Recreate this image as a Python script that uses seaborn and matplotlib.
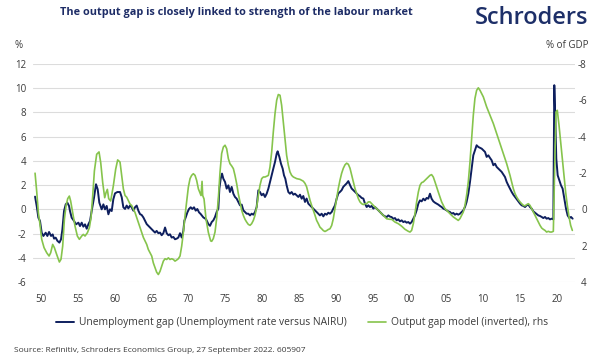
import numpy as np
import pandas as pd
import matplotlib
matplotlib.use("Agg")
import matplotlib.pyplot as plt
import seaborn as sns

# ---------------- data ----------------
unemp_year = [
    1949.19, 1949.41, 1949.64, 1949.86, 1950.09, 1950.32, 1950.63, 1950.86, 1951.09, 1951.36,
    1951.58, 1951.77, 1951.99, 1952.22, 1952.49, 1952.71, 1952.90, 1953.12, 1953.35, 1953.57,
    1953.80, 1953.93, 1954.16, 1954.48, 1954.75, 1955.07, 1955.29, 1955.52, 1955.74, 1955.97,
    1956.20, 1956.42, 1956.65, 1956.87, 1957.19, 1957.46, 1957.69, 1957.91, 1958.23, 1958.46,
    1958.68, 1958.91, 1959.14, 1959.36, 1959.59, 1959.81, 1960.04, 1960.36, 1960.72, 1960.95,
    1961.17, 1961.40, 1961.62, 1961.85, 1962.08, 1962.30, 1962.53, 1962.75, 1962.98, 1963.21,
    1963.43, 1963.66, 1963.89, 1964.11, 1964.34, 1964.56, 1964.79, 1965.02, 1965.24, 1965.47,
    1965.69, 1965.92, 1966.15, 1966.37, 1966.60, 1966.83, 1967.05, 1967.28, 1967.50, 1967.73,
    1967.96, 1968.18, 1968.41, 1968.63, 1968.86, 1969.09, 1969.31, 1969.45, 1969.63, 1969.86,
    1970.08, 1970.31, 1970.53, 1970.76, 1970.99, 1971.21, 1971.44, 1971.67, 1972.03, 1972.39,
    1972.71, 1972.93, 1973.16, 1973.38, 1973.61, 1973.83, 1974.06, 1974.20, 1974.38, 1974.56,
    1974.74, 1974.97, 1975.19, 1975.42, 1975.64, 1975.87, 1976.10, 1976.32, 1976.55, 1976.77,
    1977.00, 1977.23, 1977.45, 1977.68, 1977.90, 1978.13, 1978.36, 1978.58, 1978.81, 1979.04,
    1979.26, 1979.49, 1979.71, 1979.94, 1980.17, 1980.39, 1980.62, 1980.85, 1981.07, 1981.30,
    1981.52, 1981.75, 1981.98, 1982.11, 1982.34, 1982.56, 1982.79, 1982.97, 1983.15, 1983.33,
    1983.56, 1983.78, 1984.01, 1984.24, 1984.46, 1984.69, 1984.92, 1985.14, 1985.37, 1985.59,
    1985.82, 1986.04, 1986.27, 1986.50, 1986.72, 1986.95, 1987.18, 1987.40, 1987.63, 1987.85,
    1988.08, 1988.31, 1988.53, 1988.76, 1988.98, 1989.21, 1989.44, 1989.66, 1989.89, 1990.12,
    1990.34, 1990.57, 1990.79, 1991.02, 1991.25, 1991.47, 1991.70, 1991.93, 1992.15, 1992.38,
    1992.60, 1992.83, 1993.06, 1993.28, 1993.51, 1993.74, 1993.96, 1994.19, 1994.41, 1994.64,
    1994.87, 1995.09, 1995.32, 1995.55, 1995.77, 1996.00, 1996.22, 1996.45, 1996.68, 1996.90,
    1997.13, 1997.35, 1997.58, 1997.80, 1998.03, 1998.26, 1998.48, 1998.71, 1998.94, 1999.16,
    1999.39, 1999.61, 1999.84, 2000.07, 2000.29, 2000.52, 2000.74, 2000.97, 2001.20, 2001.42,
    2001.65, 2001.88, 2002.10, 2002.33, 2002.55, 2002.78, 2003.00, 2003.23, 2003.46, 2003.68,
    2003.91, 2004.14, 2004.36, 2004.59, 2004.81, 2005.04, 2005.27, 2005.49, 2005.72, 2005.95,
    2006.17, 2006.40, 2006.62, 2006.85, 2007.08, 2007.30, 2007.53, 2007.75, 2007.98, 2008.21,
    2008.43, 2008.66, 2008.88, 2009.11, 2009.34, 2009.57, 2009.80, 2010.02, 2010.25, 2010.47,
    2010.70, 2010.93, 2011.15, 2011.38, 2011.61, 2011.83, 2012.06, 2012.28, 2012.51, 2012.74,
    2012.96, 2013.19, 2013.41, 2013.64, 2013.87, 2014.09, 2014.32, 2014.54, 2014.77, 2015.00,
    2015.22, 2015.45, 2015.68, 2015.90, 2016.13, 2016.35, 2016.58, 2016.81, 2017.03, 2017.26,
    2017.48, 2017.71, 2017.94, 2018.16, 2018.39, 2018.61, 2018.84, 2019.07, 2019.29, 2019.52,
    2019.65, 2019.79, 2019.92, 2020.11, 2020.33, 2020.56, 2020.78, 2021.01, 2021.24, 2021.46,
    2021.69, 2021.92, 2022.14,
]
unemp_gap = [
    1.05, 0.28, -0.69, -0.96, -1.93, -2.20, -1.93, -2.20, -1.87, -2.20,
    -2.07, -2.42, -2.34, -2.60, -2.75, -2.48, -1.65, -0.14, 0.41, 0.55,
    0.28, -0.14, -0.69, -0.96, -1.24, -1.10, -1.38, -1.10, -1.43, -1.24,
    -1.60, -1.24, -0.96, -0.14, 0.96, 2.07, 1.65, 0.55, 0.00, 0.41,
    0.00, 0.28, -0.41, 0.00, -0.14, 0.83, 1.32, 1.43, 1.43, 1.00,
    0.17, 0.03, 0.31, 0.08, 0.31, 0.17, -0.11, 0.17, 0.31, -0.11,
    -0.39, -0.47, -0.67, -0.94, -1.22, -1.36, -1.50, -1.64, -1.78, -1.92,
    -1.78, -1.97, -1.92, -2.14, -1.97, -1.50, -1.97, -2.14, -2.06, -2.33,
    -2.28, -2.47, -2.42, -2.33, -1.97, -2.33, -1.78, -0.94, -0.67, -0.25,
    0.03, 0.17, 0.03, 0.17, -0.11, 0.03, -0.25, -0.39, -0.67, -0.81,
    -1.22, -1.36, -1.05, -0.91, -0.63, -0.22, 0.06, 1.71, 2.53, 2.95,
    2.53, 2.26, 1.71, 1.98, 1.43, 1.85, 1.29, 1.02, 0.88, 0.61,
    0.33, 0.39, -0.08, -0.22, -0.36, -0.36, -0.50, -0.36, -0.44, -0.22,
    0.19, 1.57, 1.43, 1.16, 1.29, 1.02, 1.29, 1.71, 2.26, 2.81,
    3.36, 3.91, 4.60, 4.79, 4.33, 3.77, 3.36, 2.81, 2.53, 1.98,
    1.43, 1.29, 1.43, 1.21, 1.29, 1.16, 1.02, 1.21, 0.88, 1.10,
    0.61, 0.89, 0.47, 0.33, 0.19, 0.06, -0.08, -0.22, -0.36, -0.50,
    -0.36, -0.58, -0.36, -0.44, -0.28, -0.36, -0.22, 0.06, 0.33, 0.89,
    1.31, 1.44, 1.58, 1.86, 2.00, 2.14, 2.33, 2.00, 1.72, 1.58,
    1.44, 1.31, 1.17, 1.08, 0.94, 0.89, 0.47, 0.19, 0.33, 0.19,
    0.28, 0.06, 0.19, 0.06, -0.08, -0.22, -0.36, -0.50, -0.58, -0.64,
    -0.50, -0.60, -0.64, -0.78, -0.72, -0.91, -0.83, -0.99, -0.91, -1.05,
    -0.99, -1.10, -1.05, -1.18, -1.05, -0.77, -0.50, -0.08, 0.47, 0.74,
    0.66, 0.88, 0.74, 0.94, 0.88, 1.29, 0.88, 0.66, 0.55, 0.47,
    0.39, 0.28, 0.19, 0.06, 0.00, -0.08, -0.17, -0.22, -0.36, -0.30,
    -0.44, -0.36, -0.44, -0.36, -0.22, -0.08, 0.19, 0.61, 1.29, 2.26,
    3.36, 4.46, 4.88, 5.29, 5.15, 5.08, 5.01, 4.88, 4.74, 4.33,
    4.46, 4.24, 4.05, 3.64, 3.77, 3.50, 3.36, 3.22, 3.09, 2.87,
    2.67, 2.26, 1.98, 1.71, 1.43, 1.21, 1.02, 0.83, 0.66, 0.47,
    0.33, 0.28, 0.19, 0.33, 0.39, 0.19, 0.06, -0.17, -0.28, -0.39,
    -0.50, -0.55, -0.63, -0.72, -0.63, -0.77, -0.72, -0.83, -0.77, -0.83,
    10.25, 7.49, 4.19, 2.81, 2.40, 1.98, 1.71, 0.88, 0.06, -0.50,
    -0.72, -0.63, -0.77,
]

og_year = [
    1949.19, 1949.41, 1949.64, 1949.86, 1950.09, 1950.41, 1950.77, 1951.09, 1951.31, 1951.58,
    1951.81, 1952.12, 1952.49, 1952.71, 1952.94, 1953.17, 1953.39, 1953.62, 1953.84, 1954.02,
    1954.30, 1954.61, 1954.93, 1955.20, 1955.52, 1955.74, 1955.97, 1956.29, 1956.56, 1956.78,
    1957.01, 1957.24, 1957.55, 1957.87, 1958.10, 1958.37, 1958.64, 1958.82, 1959.00, 1959.18,
    1959.45, 1959.81, 1960.13, 1960.40, 1960.72, 1960.95, 1961.17, 1961.40, 1961.62, 1961.85,
    1962.08, 1962.30, 1962.53, 1962.75, 1962.98, 1963.21, 1963.43, 1963.66, 1963.89, 1964.11,
    1964.34, 1964.56, 1964.79, 1965.02, 1965.24, 1965.47, 1965.69, 1965.92, 1966.15, 1966.37,
    1966.60, 1966.83, 1967.05, 1967.28, 1967.50, 1967.73, 1967.96, 1968.18, 1968.41, 1968.63,
    1968.86, 1969.09, 1969.31, 1969.54, 1969.77, 1969.99, 1970.22, 1970.44, 1970.67, 1970.90,
    1971.12, 1971.35, 1971.71, 1971.85, 1971.94, 1972.12, 1972.39, 1972.71, 1973.02, 1973.16,
    1973.38, 1973.61, 1973.83, 1974.06, 1974.29, 1974.51, 1974.74, 1974.97, 1975.19, 1975.42,
    1975.64, 1975.87, 1976.10, 1976.32, 1976.55, 1976.77, 1977.00, 1977.23, 1977.45, 1977.68,
    1977.90, 1978.13, 1978.36, 1978.58, 1978.81, 1979.04, 1979.26, 1979.49, 1979.71, 1979.94,
    1980.17, 1980.39, 1980.62, 1980.85, 1981.07, 1981.30, 1981.52, 1981.75, 1981.98, 1982.20,
    1982.43, 1982.65, 1982.88, 1983.11, 1983.33, 1983.56, 1983.78, 1984.01, 1984.24, 1984.69,
    1985.14, 1985.59, 1985.82, 1986.04, 1986.27, 1986.50, 1986.72, 1986.95, 1987.18, 1987.40,
    1987.63, 1987.85, 1988.08, 1988.31, 1988.53, 1988.76, 1988.98, 1989.21, 1989.44, 1989.66,
    1989.89, 1990.12, 1990.34, 1990.57, 1990.79, 1991.02, 1991.25, 1991.47, 1991.70, 1991.93,
    1992.15, 1992.38, 1992.60, 1992.83, 1993.06, 1993.28, 1993.51, 1993.74, 1993.96, 1994.19,
    1994.41, 1994.64, 1994.87, 1995.09, 1995.32, 1995.55, 1995.77, 1996.00, 1996.22, 1996.45,
    1996.68, 1996.90, 1997.35, 1997.58, 1998.03, 1998.48, 1998.94, 1999.39, 1999.84, 2000.07,
    2000.29, 2000.52, 2000.74, 2000.97, 2001.20, 2001.42, 2001.65, 2001.88, 2002.10, 2002.33,
    2002.55, 2002.78, 2003.00, 2003.23, 2003.46, 2003.68, 2003.91, 2004.14, 2004.36, 2004.59,
    2004.81, 2005.04, 2005.27, 2005.49, 2005.72, 2005.95, 2006.17, 2006.40, 2006.62, 2006.85,
    2007.08, 2007.30, 2007.53, 2007.75, 2007.98, 2008.21, 2008.43, 2008.66, 2008.88, 2009.11,
    2009.34, 2009.57, 2009.92, 2010.02, 2010.47, 2010.93, 2011.38, 2011.83, 2012.28, 2012.74,
    2013.19, 2013.64, 2014.09, 2014.32, 2014.54, 2014.77, 2015.00, 2015.22, 2015.45, 2015.68,
    2015.90, 2016.13, 2016.35, 2016.58, 2016.81, 2017.03, 2017.26, 2017.48, 2017.71, 2017.94,
    2018.16, 2018.39, 2018.61, 2018.84, 2019.07, 2019.29, 2019.52, 2019.70, 2019.88, 2020.06,
    2020.29, 2020.51, 2020.74, 2020.97, 2021.19, 2021.42, 2021.65, 2021.87, 2022.10,
]
og_gap = [
    -1.99, -1.00, 0.19, 0.83, 1.65, 2.11, 2.39, 2.57, 2.39, 1.93,
    2.11, 2.48, 2.90, 2.75, 2.02, 0.55, -0.19, -0.59, -0.73, -0.46,
    0.19, 0.92, 1.47, 1.65, 1.47, 1.38, 1.47, 1.29, 1.01, 0.46,
    -0.73, -2.11, -3.03, -3.16, -2.57, -1.47, -0.64, -0.92, -1.10, -0.59,
    -0.46, -1.29, -2.21, -2.72, -2.60, -1.87, -1.13, -0.76, -0.67, -0.48,
    -0.29, -0.21, -0.02, 0.17, 0.45, 0.72, 1.00, 1.28, 1.55, 1.74,
    1.93, 2.21, 2.39, 2.57, 2.95, 3.22, 3.46, 3.59, 3.41, 3.13,
    2.85, 2.72, 2.76, 2.67, 2.76, 2.72, 2.76, 2.85, 2.79, 2.72,
    2.57, 2.02, 1.28, 0.35, -0.48, -1.22, -1.69, -1.87, -1.96, -1.87,
    -1.59, -1.13, -0.76, -1.54, -0.76, -0.57, 0.54, 1.28, 1.74, 1.76,
    1.61, 1.25, 0.51, -0.59, -2.06, -3.07, -3.43, -3.53, -3.34, -2.79,
    -2.51, -2.39, -2.24, -1.87, -1.41, -0.86, -0.41, 0.05, 0.33, 0.55,
    0.70, 0.83, 0.88, 0.79, 0.61, 0.33, -0.13, -0.77, -1.32, -1.69,
    -1.78, -1.78, -1.82, -1.87, -2.33, -3.16, -4.26, -5.27, -6.01, -6.32,
    -6.28, -5.73, -4.81, -3.89, -2.97, -2.43, -2.06, -1.87, -1.78, -1.69,
    -1.65, -1.55, -1.43, -1.24, -0.87, -0.50, -0.22, 0.05, 0.33, 0.61,
    0.79, 0.98, 1.07, 1.17, 1.22, 1.17, 1.11, 1.07, 0.89, 0.52,
    -0.04, -0.59, -1.15, -1.61, -1.98, -2.26, -2.45, -2.54, -2.48, -2.26,
    -1.89, -1.52, -1.15, -0.87, -0.59, -0.41, -0.31, -0.26, -0.31, -0.31,
    -0.41, -0.41, -0.31, -0.22, -0.13, -0.04, 0.05, 0.15, 0.24, 0.33,
    0.43, 0.52, 0.55, 0.55, 0.70, 0.79, 0.93, 1.10, 1.21, 1.25,
    1.16, 0.79, 0.24, -0.41, -0.95, -1.32, -1.47, -1.51, -1.60, -1.69,
    -1.78, -1.87, -1.91, -1.78, -1.51, -1.23, -0.95, -0.68, -0.41, -0.22,
    -0.04, 0.05, 0.15, 0.24, 0.33, 0.42, 0.48, 0.55, 0.61, 0.51,
    0.33, 0.15, -0.22, -0.77, -1.51, -2.61, -3.89, -5.18, -6.10, -6.55,
    -6.69, -6.55, -6.27, -6.19, -5.64, -5.18, -4.72, -4.17, -3.62, -3.07,
    -2.51, -1.87, -1.14, -0.86, -0.68, -0.53, -0.41, -0.31, -0.22, -0.19,
    -0.26, -0.31, -0.22, -0.04, 0.15, 0.33, 0.51, 0.70, 0.88, 1.03,
    1.10, 1.16, 1.25, 1.21, 1.25, 1.25, 1.21, -2.24, -5.36, -5.45,
    -4.63, -3.71, -2.79, -1.87, -0.95, -0.22, 0.42, 0.88, 1.16,
]

x_ticks = [1950, 1955, 1960, 1965, 1970, 1975, 1980, 1985, 1990, 1995,
           2000, 2005, 2010, 2015, 2020]
x_tick_labels = ["50", "55", "60", "65", "70", "75", "80", "85", "90", "95",
                 "00", "05", "10", "15", "20"]
left_ticks = [-6, -4, -2, 0, 2, 4, 6, 8, 10, 12]
right_ticks = [-8, -6, -4, -2, 0, 2, 4]

title = "The output gap is closely linked to strength of the labour market"
label_unemp = "Unemployment gap (Unemployment rate versus NAIRU)"
label_og = "Output gap model (inverted), rhs"
source = "Source: Refinitiv, Schroders Economics Group, 27 September 2022. 605907"

# ---------------- styling ----------------
sns.set_theme(style="white")
plt.rcParams["font.family"] = ["Open Sans", "DejaVu Sans"]

NAVY = "#0e1f5e"
GREEN = "#86c44c"
TXT = "#3a3a3a"
GRID = "#dcdcdc"

unemp_df = pd.DataFrame({"year": unemp_year, "gap": unemp_gap})
og_df = pd.DataFrame({"year": og_year, "gap": og_gap})

fig = plt.figure(figsize=(5.96, 3.61), dpi=100)
ax = fig.add_axes([33 / 596, 1 - 282 / 361, (575 - 33) / 596, (282 - 64) / 361])
ax2 = ax.twinx()

sns.lineplot(data=unemp_df, x="year", y="gap", ax=ax, color=NAVY, linewidth=1.4,
             estimator=None, sort=False, label=label_unemp, legend=False)
sns.lineplot(data=og_df, x="year", y="gap", ax=ax2, color=GREEN, linewidth=1.2,
             estimator=None, sort=False, label=label_og, legend=False)

ax.set_xlim(1948.91, 2022.46)
ax.set_ylim(-6, 12)
ax2.set_ylim(4, -8)

ax.set_xticks(x_ticks)
ax.set_xticklabels(x_tick_labels)
ax.set_yticks(left_ticks)
ax.set_yticklabels([str(t) for t in left_ticks])
ax2.set_yticks(right_ticks)
ax2.set_yticklabels([str(t) for t in right_ticks])

ax.grid(True, axis="y", color=GRID, linewidth=0.8)
ax.grid(False, axis="x")
ax2.grid(False)
for a in (ax, ax2):
    for s in a.spines.values():
        s.set_visible(False)
    a.set_xlabel("")
    a.set_ylabel("")

ax.tick_params(axis="x", length=0, pad=9, labelsize=7, labelcolor=TXT)
ax.tick_params(axis="y", length=0, pad=5, labelsize=7, labelcolor=TXT)
ax2.tick_params(axis="y", length=0, pad=8.5, labelsize=7, labelcolor=TXT)
for lbl in ax2.get_yticklabels():
    lbl.set_horizontalalignment("right")

# texts
fig.text(236 / 596, 1 - 12 / 361, title, ha="center", va="center",
         fontsize=7.8, fontweight="bold", color="#1d2c66")
fig.text(588 / 596, 1 - 18 / 361, "Schroders", ha="right", va="center",
         fontsize=17, fontweight="semibold", color="#1d2f68")
fig.text(15 / 596, 1 - 45 / 361, "%", ha="left", va="center", fontsize=7, color=TXT)
fig.text(588 / 596, 1 - 45 / 361, "% of GDP", ha="right", va="center", fontsize=7, color=TXT)
fig.text(14 / 596, 1 - 350 / 361, source, ha="left", va="center", fontsize=6, color=TXT)

h1, l1 = ax.get_legend_handles_labels()
h2, l2 = ax2.get_legend_handles_labels()
fig.legend(h1 + h2, l1 + l2, loc="center", bbox_to_anchor=(302 / 596, 1 - 323 / 361),
           ncol=2, frameon=False, fontsize=7.4, handlelength=1.75, handletextpad=0.45,
           columnspacing=2.1, labelcolor=TXT)

fig.savefig("out.png", dpi=100, facecolor="white")
